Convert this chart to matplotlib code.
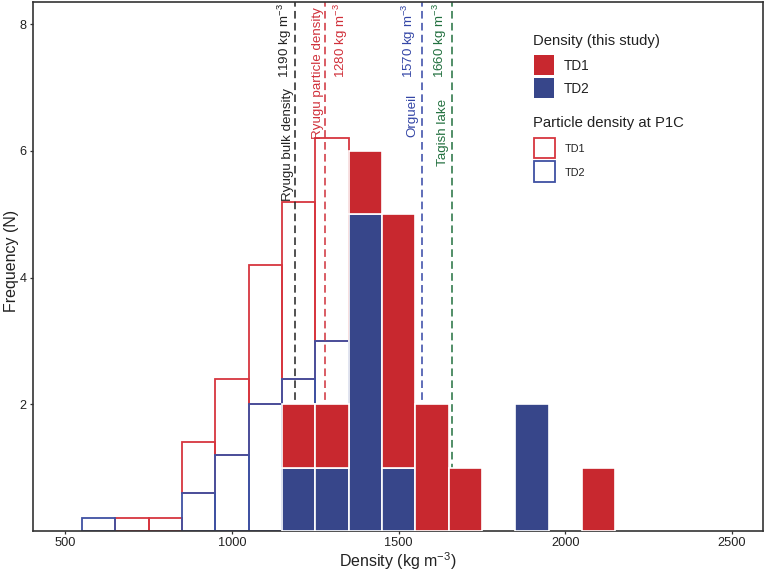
import matplotlib
matplotlib.use("Agg")
import matplotlib.pyplot as plt
from matplotlib.patches import Rectangle
from matplotlib.transforms import Affine2D
import numpy as np

# ---------------- data ----------------
# Density (this study): bin centres (kg m^-3), 100-wide bins
study_bins = [1200, 1300, 1400, 1500, 1600, 1700, 1800, 1900, 2000, 2100]
study_td2 = [1, 1, 5, 1, 0, 0, 0, 2, 0, 0]
study_td1 = [1, 1, 1, 4, 2, 1, 0, 0, 0, 1]

# Particle density at P1C (scaled frequency), bin centres
p1c_bins = [600, 700, 800, 900, 1000, 1100, 1200, 1300]
p1c_td2 = [0.2, 0.0, 0.0, 0.6, 1.2, 2.0, 2.4, 3.0]
p1c_td1 = [0.0, 0.2, 0.2, 0.8, 1.2, 2.2, 2.8, 3.2]

# Reference densities
ref_names = ["Ryugu bulk density", "Ryugu particle density", "Orgueil", "Tagish lake"]
ref_values = [1190, 1280, 1570, 1660]

x_ticks = [500, 1000, 1500, 2000, 2500]
y_ticks = [2, 4, 6, 8]

legend1_title = "Density (this study)"
legend2_title = "Particle density at P1C"
series_labels = ["TD1", "TD2"]

# ---------------- style ----------------
RED = "#C8282F"
BLUE = "#37468A"
RED_O = "#D7363F"
BLUE_O = "#3F51A2"
ref_colors = ["#222222", "#D0303A", "#3446A6", "#22703F"]
BIN_W = 100

plt.rcParams["font.family"] = ["Liberation Sans", "DejaVu Sans"]
plt.rcParams["mathtext.fontset"] = "custom"
plt.rcParams["mathtext.rm"] = "Liberation Sans"
plt.rcParams["mathtext.it"] = "Liberation Sans:italic"
plt.rcParams["mathtext.bf"] = "Liberation Sans:bold"

W, H = 765, 571
fig = plt.figure(figsize=(W / 100, H / 100), dpi=100)
ax = fig.add_axes([33 / W, 1 - 531 / H, 730 / W, 529.5 / H])
# figure-pixel transform (origin top-left) for the legend block
tpx = Affine2D().scale(1 / W, -1 / H).translate(0, 1) + fig.transFigure

# open histograms (P1C), stacked: TD2 bottom, TD1 above
p1c_td2_a = np.array(p1c_td2)
p1c_td1_a = np.array(p1c_td1)
mask1 = p1c_td1_a > 0
ax.bar(np.array(p1c_bins)[mask1], p1c_td1_a[mask1], width=BIN_W, bottom=p1c_td2_a[mask1],
       fill=False, edgecolor=RED_O, linewidth=1.3, zorder=1)
mask2 = p1c_td2_a > 0
ax.bar(np.array(p1c_bins)[mask2], p1c_td2_a[mask2], width=BIN_W,
       fill=False, edgecolor=BLUE_O, linewidth=1.3, zorder=1.2)

# reference lines
for v, c in zip(ref_values, ref_colors):
    ax.axvline(v, color=c, linestyle=(0, (5, 2.8)), linewidth=1.1, zorder=2)

# filled stacked histogram (this study)
s_td2 = np.array(study_td2)
s_td1 = np.array(study_td1)
m2 = s_td2 > 0
ax.bar(np.array(study_bins)[m2], s_td2[m2], width=BIN_W, color=BLUE,
       edgecolor="white", linewidth=1.2, zorder=3)
m1 = s_td1 > 0
ax.bar(np.array(study_bins)[m1], s_td1[m1], width=BIN_W, bottom=s_td2[m1], color=RED,
       edgecolor="white", linewidth=1.2, zorder=3)

# labels for reference lines
fs_ref = 9.6
name_off = [-0.6, -1.3, -2.9, -1.8]
name_top = [7.0, 8.27, 6.9, 6.83]
val_off = [-0.6, 4.8, -2.9, -1.8]
val_ha = ["right", "left", "right", "right"]
for i, (nm, v, c) in enumerate(zip(ref_names, ref_values, ref_colors)):
    ax.annotate(nm, xy=(v, name_top[i]), xytext=(name_off[i], 0), textcoords="offset points",
                rotation=90, ha="right", va="top", color=c, fontsize=fs_ref, zorder=4)
    ax.annotate(f"{v} kg m$^{{-3}}$", xy=(v, 8.33), xytext=(val_off[i], 0),
                textcoords="offset points", rotation=90, ha=val_ha[i], va="top",
                color=c, fontsize=fs_ref, zorder=4)

ax.set_xlim(403, 2593)
ax.set_ylim(0, 8.36)
ax.set_xticks(x_ticks)
ax.set_yticks(y_ticks)
ax.tick_params(direction="out", length=2.5, width=0.9, color="#333333", labelsize=9.2,
               labelcolor="#222222", pad=2)
for sp in ax.spines.values():
    sp.set_color("#333333")
    sp.set_linewidth(1.2)
ax.set_xlabel("Density (kg m$^{-3}$)", fontsize=11.5, color="#222222", labelpad=0.5)
ax.set_ylabel("Frequency (N)", fontsize=11.5, color="#222222")
ax.yaxis.set_label_coords((19 - 33) / 730, 0.51)

# legend block (drawn manually to match layout)
fig.text(533, 45, legend1_title, transform=tpx, fontsize=10.7, color="#222222",
         ha="left", va="baseline")
for j, (fc, lab) in enumerate(zip([RED, BLUE], series_labels)):
    y0 = 55 + 23.3 * j
    fig.add_artist(Rectangle((534, y0), 20, 19.5, transform=tpx, facecolor=fc,
                             edgecolor="none"))
    fig.text(564, y0 + 15, lab, transform=tpx, fontsize=9.8, color="#222222",
             ha="left", va="baseline")

fig.text(533, 127.3, legend2_title, transform=tpx, fontsize=10.7, color="#222222",
         ha="left", va="baseline")
for j, (ec, lab) in enumerate(zip([RED_O, BLUE_O], series_labels)):
    y0 = 137.5 + 23.7 * j
    fig.add_artist(Rectangle((534.5, y0), 20.5, 20.5, transform=tpx, facecolor="white",
                             edgecolor=ec, linewidth=1.3))
    fig.text(564.3, y0 + 15, lab, transform=tpx, fontsize=7.8, color="#222222",
             ha="left", va="baseline")

fig.savefig("out.png", dpi=100)
